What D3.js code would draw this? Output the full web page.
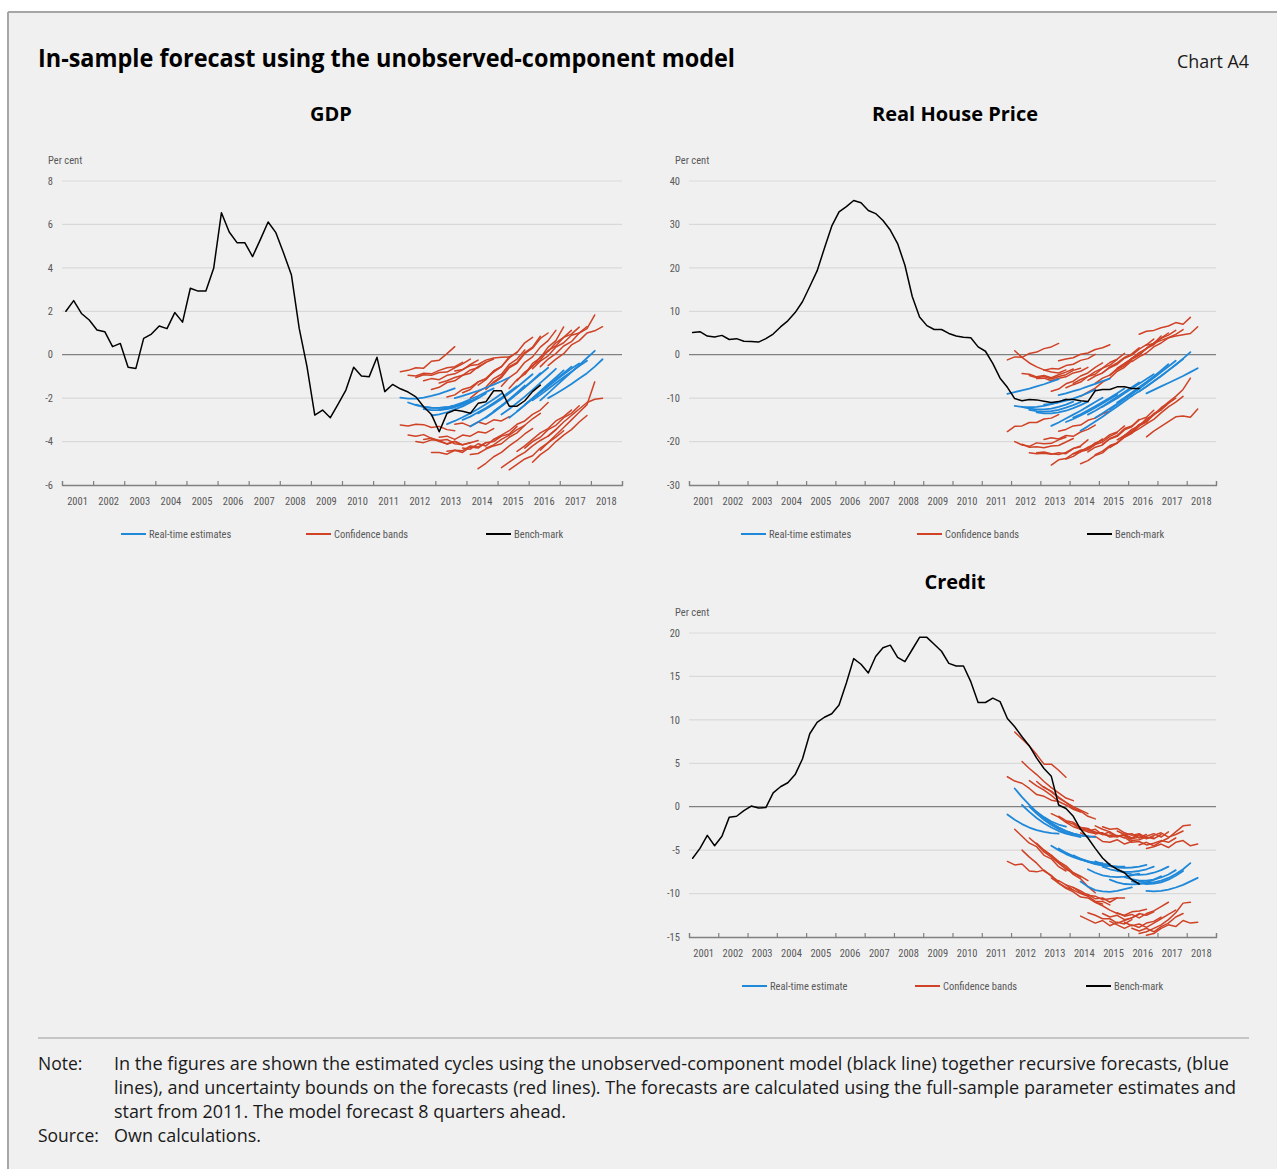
<!DOCTYPE html>
<html><head><meta charset="utf-8">
<script src="https://cdn.jsdelivr.net/npm/d3@7"></script>
<style>
body{margin:0;background:#fff}
svg{display:block}
</style>
</head><body>
<svg id="c" width="1277" height="1169"></svg>
<script>
// ---------- DATA ----------
const years = [2001,2002,2003,2004,2005,2006,2007,2008,2009,2010,2011,2012,2013,2014,2015,2016,2017,2018];
const gdpTicks = [-6,-4,-2,0,2,4,6,8];
const houseTicks = [-30,-20,-10,0,10,20,30,40];
const creditTicks = [-15,-10,-5,0,5,10,15,20];
// forecast origin quarter index (0 = 2001Q1); each forecast covers origin+1 .. origin+8
const fcOrigins = [42,43,44,45,46,47,48,49,50,51,52,53,54,55,56,57,58,59,60,61];

// quarterly benchmark cycles 2001Q1 - 2016Q2
const gdpBench = [2.0,2.49,1.9,1.6,1.14,1.06,0.37,0.52,-0.58,-0.63,0.75,0.95,1.32,1.2,1.94,1.5,3.06,2.93,2.93,3.98,6.54,5.65,5.16,5.16,4.52,5.3,6.11,5.62,4.67,3.67,1.21,-0.55,-2.78,-2.55,-2.9,-2.27,-1.63,-0.58,-0.98,-1.01,-0.12,-1.7,-1.37,-1.57,-1.72,-1.94,-2.4,-2.75,-3.55,-2.7,-2.55,-2.6,-2.7,-2.24,-2.17,-1.66,-1.66,-2.37,-2.37,-2.12,-1.7,-1.4];
const houseBench = [5.1,5.3,4.3,4.1,4.45,3.5,3.7,3.1,3.05,2.9,3.7,4.75,6.4,7.8,9.7,12.2,15.7,19.3,24.5,29.6,32.9,34.1,35.5,35.0,33.2,32.5,30.9,28.7,25.6,20.6,13.4,8.7,6.7,5.8,5.8,4.9,4.3,4.0,3.9,1.8,0.8,-2.0,-5.4,-7.5,-10.1,-10.6,-10.3,-10.4,-10.7,-11.0,-10.8,-10.3,-10.3,-10.6,-10.8,-8.3,-8.0,-8.0,-7.4,-7.4,-7.8,-7.8];
const creditBench = [-5.94,-4.8,-3.3,-4.5,-3.4,-1.2,-1.1,-0.46,0.08,-0.15,-0.1,1.6,2.3,2.76,3.7,5.5,8.4,9.7,10.3,10.7,11.7,14.25,17.05,16.4,15.4,17.3,18.3,18.6,17.2,16.7,18.1,19.5,19.5,18.7,17.9,16.5,16.2,16.2,14.4,12.0,12.0,12.5,12.1,10.15,9.2,8.05,7.0,5.6,4.4,3.5,0.2,-0.2,-1.1,-2.6,-3.6,-4.8,-5.9,-6.7,-7.2,-7.6,-8.4,-8.9];

const gdpBlue = [
[-1.98,-2.02,-2.02,-1.98,-1.9,-1.8,-1.68,-1.55],
[-2.2,-2.32,-2.4,-2.44,-2.45,-2.42,-2.36,-2.28],
[-2.3,-2.4,-2.45,-2.45,-2.42,-2.35,-2.25,-2.12],
[-2.5,-2.55,-2.55,-2.5,-2.42,-2.3,-2.15,-1.98],
[-2.8,-2.75,-2.65,-2.52,-2.38,-2.2,-2.0,-1.78],
[-2.55,-2.45,-2.33,-2.2,-2.05,-1.9,-1.72,-1.55],
[-3.2,-3.05,-2.88,-2.7,-2.5,-2.28,-2.05,-1.8],
[-2.0,-1.9,-1.78,-1.66,-1.52,-1.38,-1.22,-1.05],
[-3.0,-2.85,-2.65,-2.45,-2.22,-1.98,-1.72,-1.45],
[-3.3,-3.1,-2.88,-2.62,-2.35,-2.06,-1.75,-1.42],
[-2.7,-2.5,-2.28,-2.04,-1.78,-1.5,-1.2,-0.9],
[-2.9,-2.65,-2.38,-2.1,-1.8,-1.5,-1.18,-0.85],
[-2.6,-2.35,-2.08,-1.8,-1.5,-1.2,-0.9,-0.6],
[-2.75,-2.5,-2.22,-1.93,-1.62,-1.3,-0.98,-0.65],
[-2.9,-2.62,-2.32,-2.0,-1.68,-1.36,-1.04,-0.72],
[-2.6,-2.32,-2.03,-1.73,-1.43,-1.13,-0.85,-0.55],
[-2.3,-2.02,-1.74,-1.46,-1.18,-0.9,-0.64,-0.4],
[-2.1,-1.85,-1.58,-1.3,-1.04,-0.78,-0.52,-0.28],
[-2.1,-1.78,-1.45,-1.12,-0.8,-0.48,-0.15,0.18],
[-2.0,-1.8,-1.58,-1.35,-1.1,-0.85,-0.55,-0.21]];
const gdpUpper = [
[-0.78,-0.72,-0.6,-0.62,-0.3,-0.25,0.05,0.37],
[-0.95,-0.98,-0.85,-0.88,-0.72,-0.6,-0.55,-0.35],
[-1.05,-0.92,-0.95,-0.82,-0.8,-0.6,-0.42,-0.2],
[-1.2,-1.1,-1.15,-0.95,-0.88,-0.7,-0.45,-0.25],
[-1.6,-1.5,-1.28,-1.2,-0.95,-0.85,-0.55,-0.35],
[-1.3,-1.2,-1.05,-0.95,-0.7,-0.6,-0.35,-0.2],
[-1.95,-1.85,-1.6,-1.5,-1.25,-1.1,-0.8,-0.55],
[-0.75,-0.68,-0.5,-0.45,-0.25,-0.15,-0.12,-0.1],
[-1.75,-1.6,-1.25,-1.1,-0.75,-0.55,-0.15,0.12],
[-2.0,-1.7,-1.5,-1.1,-0.9,-0.45,-0.2,0.22],
[-1.4,-1.15,-0.75,-0.55,-0.1,0.1,0.55,0.8],
[-1.6,-1.25,-1.0,-0.55,-0.35,0.1,0.35,0.85],
[-1.3,-1.05,-0.6,-0.4,0.05,0.3,0.75,1.0],
[-1.45,-1.05,-0.8,-0.35,-0.1,0.35,0.65,1.12],
[-1.55,-1.15,-0.9,-0.4,-0.15,0.35,0.65,1.28],
[-1.2,-0.8,-0.55,-0.1,0.15,0.55,0.8,1.12],
[-0.9,-0.5,-0.25,0.2,0.4,0.8,0.95,1.27],
[-0.65,-0.3,-0.05,0.35,0.55,0.9,1.0,1.3],
[-0.55,-0.2,0.05,0.4,0.6,1.0,1.2,1.83],
[-0.5,-0.2,0.05,0.45,0.65,1.0,1.1,1.29]];
const gdpLower = [
[-3.24,-3.28,-3.2,-3.22,-3.35,-3.3,-3.45,-3.5],
[-3.7,-3.75,-3.68,-3.85,-3.95,-3.9,-4.1,-4.15],
[-4.0,-4.05,-3.92,-3.95,-4.12,-4.0,-4.15,-4.05],
[-3.9,-3.85,-4.0,-4.1,-3.98,-4.15,-4.05,-3.95],
[-4.5,-4.5,-4.58,-4.4,-4.42,-4.2,-4.25,-4.05],
[-3.8,-3.75,-3.9,-3.7,-3.75,-3.55,-3.6,-3.4],
[-4.45,-4.4,-4.5,-4.25,-4.3,-4.05,-4.0,-3.75],
[-3.2,-3.15,-3.3,-3.1,-3.2,-3.0,-3.05,-2.85],
[-4.3,-4.35,-4.1,-4.2,-3.9,-3.75,-3.65,-3.3],
[-4.6,-4.55,-4.35,-4.2,-4.1,-3.8,-3.6,-3.25],
[-5.25,-5.0,-4.7,-4.5,-4.2,-3.95,-3.65,-3.4],
[-4.3,-4.15,-3.9,-3.7,-3.45,-3.25,-2.95,-2.7],
[-3.9,-3.7,-3.5,-3.2,-3.05,-2.75,-2.55,-2.2],
[-5.2,-4.95,-4.7,-4.5,-4.2,-3.95,-3.75,-3.45],
[-5.3,-5.05,-4.8,-4.65,-4.3,-4.05,-3.8,-3.5],
[-4.45,-4.2,-3.9,-3.6,-3.4,-3.05,-2.85,-2.55],
[-4.3,-4.0,-3.8,-3.45,-3.25,-2.9,-2.7,-2.35],
[-4.95,-4.6,-4.35,-4.0,-3.7,-3.45,-3.1,-2.8],
[-4.4,-4.05,-3.7,-3.35,-3.0,-2.65,-2.3,-1.25],
[-3.75,-3.45,-3.1,-2.8,-2.5,-2.2,-2.05,-2.0]];

const houseBlue = [
[-9.0,-8.6,-8.2,-7.8,-7.3,-6.8,-6.2,-5.6],
[-11.8,-12.0,-12.1,-12.0,-11.8,-11.4,-10.9,-10.3],
[-12.0,-12.4,-12.6,-12.6,-12.4,-12.0,-11.5,-10.8],
[-12.7,-13.0,-13.1,-13.0,-12.7,-12.2,-11.6,-10.9],
[-13.3,-13.5,-13.5,-13.3,-12.9,-12.3,-11.6,-10.8],
[-11.5,-11.3,-11.0,-10.6,-10.1,-9.5,-8.8,-8.0],
[-16.4,-15.6,-14.7,-13.8,-12.9,-11.9,-10.9,-9.9],
[-9.3,-8.9,-8.4,-7.9,-7.3,-6.7,-6.1,-5.5],
[-15.5,-14.8,-14.0,-13.1,-12.2,-11.2,-10.2,-9.2],
[-14.5,-13.7,-12.8,-11.9,-10.9,-9.9,-8.9,-7.8],
[-17.5,-16.5,-15.4,-14.3,-13.1,-11.9,-10.7,-9.5],
[-13.8,-12.9,-11.9,-10.8,-9.7,-8.6,-7.5,-6.4],
[-14.5,-13.5,-12.4,-11.3,-10.1,-8.9,-7.7,-6.5],
[-12.0,-11.0,-10.0,-8.9,-7.8,-6.7,-5.6,-4.5],
[-12.6,-11.4,-10.2,-9.0,-7.8,-6.5,-5.2,-3.9],
[-11.0,-9.9,-8.7,-7.5,-6.3,-5.0,-3.6,-2.2],
[-10.0,-8.9,-7.7,-6.5,-5.3,-4.0,-2.7,-1.4],
[-9.5,-8.4,-7.3,-6.1,-4.9,-3.6,-2.3,-1.0],
[-8.5,-7.3,-6.1,-4.9,-3.6,-2.3,-0.9,0.6],
[-8.9,-8.1,-7.3,-6.5,-5.7,-4.9,-4.0,-3.1]];
const houseUpper = [
[-1.2,-0.5,-0.6,0.3,0.6,1.4,1.8,2.6],
[0.9,-0.6,-1.9,-2.8,-3.5,-4.0,-4.2,-3.5],
[-4.3,-4.5,-5.1,-4.8,-5.3,-4.6,-4.0,-3.3],
[-4.8,-5.3,-5.0,-5.6,-5.0,-4.6,-3.6,-3.1],
[-5.5,-5.4,-6.0,-5.4,-5.1,-4.2,-3.8,-2.9],
[-3.6,-3.2,-3.3,-2.5,-2.2,-1.3,-0.9,0.1],
[-8.4,-7.9,-6.7,-6.1,-4.9,-4.2,-2.9,-1.9],
[-1.4,-1.0,-0.7,0.1,0.4,1.2,1.6,2.3],
[-7.6,-6.9,-6.3,-5.0,-4.5,-3.1,-2.4,-1.1],
[-6.6,-5.7,-5.0,-3.9,-3.1,-1.8,-1.0,0.3],
[-9.6,-8.6,-7.7,-6.3,-5.4,-3.8,-2.9,-1.4],
[-5.9,-4.9,-4.2,-2.8,-1.9,-0.6,0.2,1.6],
[-6.6,-5.4,-4.7,-3.2,-2.4,-0.8,0.1,1.4],
[-4.1,-3.0,-2.2,-0.8,-0.1,1.3,2.3,3.6],
[-4.7,-3.4,-2.5,-1.0,-0.1,1.5,2.6,4.3],
[-3.1,-2.0,-0.9,0.5,1.4,2.7,3.8,5.0],
[-2.1,-0.9,0.0,1.5,2.3,3.8,4.5,5.6],
[-1.6,-0.5,0.4,1.8,2.7,3.9,4.7,5.8],
[4.7,5.4,5.6,6.2,6.6,7.4,7.0,8.6],
[2.2,2.6,3.3,3.9,4.3,4.6,4.9,6.45]];
const houseLower = [
[-17.7,-16.5,-16.4,-15.6,-15.6,-14.8,-14.6,-13.8],
[-20.0,-20.8,-21.1,-20.3,-20.5,-20.4,-19.6,-19.0],
[-20.6,-21.3,-21.2,-21.4,-21.0,-20.9,-20.1,-19.3],
[-22.6,-22.8,-22.7,-22.9,-22.6,-22.8,-21.6,-21.2],
[-22.6,-22.4,-22.8,-23.0,-22.5,-21.6,-21.0,-19.6],
[-19.5,-19.1,-19.4,-18.6,-18.8,-17.8,-17.2,-16.2],
[-25.4,-24.2,-23.9,-22.8,-22.4,-21.3,-20.6,-19.4],
[-17.6,-17.2,-16.4,-16.2,-15.1,-14.6,-13.6,-13.0],
[-24.0,-23.4,-22.3,-21.9,-20.7,-20.1,-18.8,-18.0],
[-22.8,-22.0,-21.6,-20.3,-19.7,-18.4,-17.8,-16.4],
[-25.1,-24.4,-23.2,-22.6,-21.1,-20.4,-18.9,-18.0],
[-22.4,-21.3,-20.8,-19.3,-18.6,-17.0,-16.4,-14.9],
[-23.0,-22.2,-20.9,-20.3,-18.6,-17.8,-16.1,-15.3],
[-20.6,-19.4,-18.8,-17.3,-16.6,-15.0,-14.4,-12.8],
[-21.4,-20.3,-19.0,-18.1,-16.4,-15.5,-13.8,-12.7],
[-19.6,-18.6,-17.2,-16.4,-14.7,-13.9,-12.2,-11.0],
[-18.6,-17.6,-16.1,-15.3,-13.6,-12.7,-11.2,-10.0],
[-18.0,-17.0,-15.9,-14.9,-13.4,-12.0,-10.9,-9.6],
[-16.2,-15.1,-13.6,-12.5,-10.9,-9.6,-8.0,-5.4],
[-18.9,-17.6,-16.5,-15.4,-14.3,-14.1,-14.4,-12.5]];

const creditBlue = [
[-0.9,-1.5,-2.0,-2.4,-2.7,-2.9,-3.05,-3.1],
[2.1,1.1,0.2,-0.6,-1.2,-1.7,-2.05,-2.3],
[0.2,-0.6,-1.3,-1.9,-2.4,-2.8,-3.1,-3.3],
[0.0,-0.8,-1.5,-2.1,-2.6,-3.0,-3.3,-3.5],
[-0.6,-1.3,-1.9,-2.4,-2.8,-3.1,-3.3,-3.4],
[-1.3,-1.9,-2.4,-2.8,-3.1,-3.3,-3.4,-3.5],
[-4.5,-5.0,-5.45,-5.8,-6.1,-6.3,-6.45,-6.5],
[-4.8,-5.3,-5.7,-6.0,-6.3,-6.5,-6.6,-6.6],
[-5.3,-5.7,-6.05,-6.35,-6.6,-6.75,-6.85,-6.9],
[-5.6,-6.0,-6.3,-6.55,-6.75,-6.85,-6.9,-6.9],
[-8.6,-9.2,-9.6,-9.75,-9.8,-9.7,-9.5,-9.3],
[-7.2,-7.6,-7.9,-8.05,-8.1,-8.05,-7.9,-7.7],
[-6.3,-6.6,-6.85,-7.0,-7.05,-7.0,-6.9,-6.7],
[-6.9,-7.2,-7.4,-7.5,-7.5,-7.4,-7.2,-6.9],
[-8.4,-8.7,-8.9,-8.95,-8.9,-8.7,-8.4,-8.0],
[-7.3,-7.6,-7.8,-7.85,-7.8,-7.6,-7.3,-6.9],
[-8.1,-8.35,-8.5,-8.5,-8.4,-8.15,-7.8,-7.3],
[-8.6,-8.8,-8.9,-8.85,-8.7,-8.4,-7.95,-7.4],
[-8.6,-8.7,-8.7,-8.5,-8.2,-7.75,-7.2,-6.5],
[-9.7,-9.75,-9.7,-9.55,-9.3,-9.0,-8.6,-8.2]];
const creditUpper = [
[3.45,2.95,2.7,2.1,1.4,1.2,0.75,0.6],
[8.6,7.8,7.0,6.0,4.9,4.9,4.2,3.4],
[5.2,4.4,3.7,2.9,2.2,1.6,1.0,0.7],
[3.0,2.4,1.9,1.3,0.6,0.2,-0.3,-0.6],
[2.9,2.2,1.8,1.1,0.5,0.0,-0.4,-0.8],
[2.3,1.7,1.0,0.5,-0.2,-0.5,-1.1,-1.4],
[-0.8,-1.2,-1.8,-2.3,-2.6,-2.9,-3.1,-3.0],
[-1.1,-1.6,-1.8,-2.4,-2.6,-2.9,-3.2,-2.9],
[-1.7,-2.0,-2.6,-2.7,-3.1,-3.0,-3.5,-3.4],
[-1.9,-2.4,-2.5,-3.0,-3.1,-3.4,-3.3,-3.6],
[-3.0,-3.5,-3.4,-4.0,-4.1,-3.8,-4.3,-4.0],
[-2.8,-2.6,-3.2,-3.3,-3.5,-3.2,-3.6,-3.3],
[-2.2,-2.6,-2.9,-3.4,-3.2,-3.7,-3.5,-3.2],
[-2.3,-2.6,-2.5,-3.0,-3.3,-3.1,-3.6,-3.5],
[-3.1,-3.4,-3.3,-3.9,-3.8,-3.5,-3.7,-3.2],
[-2.8,-3.2,-3.1,-3.6,-3.4,-3.1,-3.5,-2.9],
[-3.5,-4.1,-4.0,-4.4,-4.2,-3.9,-4.1,-3.6],
[-3.6,-3.2,-3.7,-3.3,-3.0,-3.5,-3.2,-2.8],
[-4.4,-4.1,-4.5,-4.0,-3.6,-2.9,-2.2,-2.1],
[-4.8,-4.6,-4.3,-4.7,-4.1,-3.9,-4.5,-4.3]];
const creditLower = [
[-6.3,-6.7,-6.6,-7.4,-7.5,-7.3,-8.0,-8.6],
[-2.6,-3.4,-4.2,-4.6,-5.6,-6.0,-6.9,-7.4],
[-5.0,-5.8,-6.5,-7.4,-7.9,-8.8,-9.3,-9.6],
[-3.6,-4.3,-5.2,-5.8,-6.5,-7.2,-7.6,-8.1],
[-4.2,-5.0,-5.6,-6.3,-6.8,-7.6,-8.0,-8.5],
[-5.0,-5.6,-6.4,-7.0,-7.8,-8.3,-9.2,-9.9],
[-8.2,-8.8,-9.4,-9.8,-10.4,-10.5,-11.0,-11.2],
[-8.5,-9.0,-9.6,-10.0,-10.3,-10.9,-10.9,-11.3],
[-9.0,-9.3,-9.9,-10.1,-10.6,-10.5,-11.0,-10.5],
[-9.3,-9.7,-10.2,-10.3,-10.7,-10.6,-10.5,-10.5],
[-12.6,-13.0,-13.4,-13.1,-13.7,-13.3,-13.5,-13.0],
[-12.2,-12.5,-12.9,-12.9,-13.4,-13.1,-12.8,-12.4],
[-11.0,-11.4,-11.9,-12.3,-12.5,-12.1,-12.0,-11.8],
[-12.3,-12.7,-12.5,-13.0,-12.8,-12.3,-12.5,-12.1],
[-13.2,-13.6,-14.0,-13.6,-13.9,-13.4,-13.2,-12.7],
[-12.2,-12.6,-12.4,-12.8,-12.3,-12.0,-11.5,-11.0],
[-13.3,-13.7,-13.5,-13.9,-13.4,-12.9,-12.4,-11.9],
[-14.0,-14.3,-14.0,-14.4,-13.8,-13.4,-12.7,-12.3],
[-14.6,-14.4,-14.0,-13.6,-13.0,-12.2,-11.1,-11.0],
[-14.8,-14.6,-14.0,-13.6,-13.8,-13.1,-13.4,-13.3]];

// ---------- DRAWING ----------
const BLUE = "#1f88d9", RED = "#cf4226", BLACK = "#000000";
const TXT = "#595959", GRID = "#d9d9d9", AXIS = "#808080";
const NARROW = "'Liberation Sans Narrow','Roboto Condensed','DejaVu Sans Condensed','Liberation Sans',sans-serif";
const MAIN = "'Open Sans','Noto Sans',sans-serif";

const svg = d3.select("#c");
svg.append("rect").attr("x",8).attr("y",12).attr("width",1269).attr("height",1157).attr("fill","#f0f0f0");
svg.append("line").attr("x1",8).attr("x2",1277).attr("y1",12).attr("y2",12).attr("stroke","#a6a6a6").attr("stroke-width",2);
svg.append("line").attr("x1",8).attr("x2",8).attr("y1",12).attr("y2",1169).attr("stroke","#a6a6a6").attr("stroke-width",2);

svg.append("text").attr("x",38).attr("y",67).attr("font-family",MAIN).attr("font-weight",700)
  .attr("font-size",25).attr("fill","#000").attr("textLength",697).attr("lengthAdjust","spacingAndGlyphs")
  .text("In-sample forecast using the unobserved-component model");
svg.append("text").attr("x",1249).attr("y",68).attr("text-anchor","end").attr("font-family",MAIN)
  .attr("font-size",17.5).attr("fill","#1a1a1a").attr("textLength",72).attr("lengthAdjust","spacingAndGlyphs").text("Chart A4");

function panel(o){
  const g = svg.append("g");
  const x = d3.scaleLinear().domain([0, years.length*4]).range([o.left, o.right]);
  const y = d3.scaleLinear().domain(d3.extent(o.ticks)).range([o.bottom, o.top]);
  g.append("text").attr("x",o.titleX).attr("y",o.titleY).attr("text-anchor","middle")
    .attr("font-family",MAIN).attr("font-weight",700).attr("font-size",20).attr("fill","#000").text(o.title);
  g.append("text").attr("x",o.left-14).attr("y",o.top-17).attr("font-family",NARROW).attr("font-size",10.5)
    .attr("fill",TXT).text("Per cent");
  // gridlines
  g.selectAll("line.grid").data(o.ticks.filter(t=>t!==0 && t!==o.ticks[0])).enter().append("line")
    .attr("x1",o.left).attr("x2",o.right).attr("y1",d=>y(d)).attr("y2",d=>y(d))
    .attr("stroke",GRID).attr("stroke-width",1.2);
  g.append("line").attr("x1",o.left).attr("x2",o.right).attr("y1",y(0)).attr("y2",y(0))
    .attr("stroke",AXIS).attr("stroke-width",1.3);
  // y labels
  g.selectAll("text.yl").data(o.ticks).enter().append("text")
    .attr("x",o.left-9).attr("y",d=>y(d)).attr("dy","0.35em").attr("text-anchor","end")
    .attr("font-family",NARROW).attr("font-size",10.5).attr("fill",TXT).text(d=>d);
  // x axis
  const ax = d3.axisBottom(x).tickValues(d3.range(0, years.length*4+1, 4)).tickSize(-4).tickFormat("");
  const axg = g.append("g").attr("transform",`translate(0,${o.bottom})`).call(ax);
  axg.select(".domain").attr("stroke",AXIS).attr("stroke-width",1.3);
  axg.selectAll(".tick line").attr("stroke",AXIS).attr("stroke-width",1.2);
  g.selectAll("text.xl").data(years).enter().append("text")
    .attr("x",(d,i)=>x(i*4+2)).attr("y",o.bottom+20).attr("text-anchor","middle")
    .attr("font-family",NARROW).attr("font-size",10.5).attr("fill",TXT).text(d=>d);
  // lines
  const line = d3.line().x(d=>x(d[0]+0.5)).y(d=>y(d[1]));
  const fc = arr => arr.map((vals,k)=>vals.map((v,j)=>[fcOrigins[k]+1+j, v]));
  const lg = g.append("g").attr("fill","none").attr("stroke-linejoin","round").attr("stroke-linecap","round");
  lg.selectAll("path.up").data(fc(o.upper)).enter().append("path").attr("d",line).attr("stroke",RED).attr("stroke-width",1.5);
  lg.selectAll("path.lo").data(fc(o.lower)).enter().append("path").attr("d",line).attr("stroke",RED).attr("stroke-width",1.5);
  lg.selectAll("path.bl").data(fc(o.blue)).enter().append("path").attr("d",line).attr("stroke",BLUE).attr("stroke-width",1.8);
  lg.append("path").attr("d",line(o.bench.map((v,i)=>[i,v]))).attr("stroke",BLACK).attr("stroke-width",1.5);
  // legend
  const items = [[o.leg[0],BLUE,o.legX[0]],["Confidence bands",RED,o.legX[1]],["Bench-mark",BLACK,o.legX[2]]];
  items.forEach(([t,c,lx])=>{
    g.append("line").attr("x1",lx).attr("x2",lx+25).attr("y1",o.legY).attr("y2",o.legY).attr("stroke",c).attr("stroke-width",2);
    g.append("text").attr("x",lx+28).attr("y",o.legY).attr("dy","0.35em").attr("font-family",NARROW)
      .attr("font-size",10.5).attr("fill",TXT).text(t);
  });
}

panel({title:"GDP", titleX:331, titleY:121, left:62, right:622, top:181, bottom:485, ticks:gdpTicks,
  bench:gdpBench, blue:gdpBlue, upper:gdpUpper, lower:gdpLower,
  leg:["Real-time estimates"], legX:[121,306,486], legY:534});
panel({title:"Real House Price", titleX:955, titleY:121, left:689, right:1216, top:181, bottom:485, ticks:houseTicks,
  bench:houseBench, blue:houseBlue, upper:houseUpper, lower:houseLower,
  leg:["Real-time estimates"], legX:[741,917,1087], legY:534});
panel({title:"Credit", titleX:955, titleY:589, left:689, right:1216, top:633, bottom:937, ticks:creditTicks,
  bench:creditBench, blue:creditBlue, upper:creditUpper, lower:creditLower,
  leg:["Real-time estimate"], legX:[742,915,1086], legY:986});

// notes
svg.append("line").attr("x1",38).attr("x2",1249).attr("y1",1038).attr("y2",1038).attr("stroke","#9a9a9a").attr("stroke-width",1.2);
const noteLines = [
 ["Note:", "In the figures are shown the estimated cycles using the unobserved-component model (black line) together recursive forecasts, (blue", 1115],
 ["", "lines), and uncertainty bounds on the forecasts (red lines). The forecasts are calculated using the full-sample parameter estimates and", 1122],
 ["", "start from 2011. The model forecast 8 quarters ahead.", 452],
 ["Source:", "Own calculations.", 147]];
noteLines.forEach(([lab,txt,len],i)=>{
  const yy = 1070 + i*24;
  if(lab) svg.append("text").attr("x",38).attr("y",yy).attr("font-family",MAIN).attr("font-size",17.5).attr("fill","#1a1a1a").text(lab);
  const t = svg.append("text").attr("x",114).attr("y",yy).attr("font-family",MAIN).attr("font-size",17.5).attr("fill","#1a1a1a").text(txt);
  if(len) t.attr("textLength",len).attr("lengthAdjust","spacingAndGlyphs");
});
</script>
</body></html>
